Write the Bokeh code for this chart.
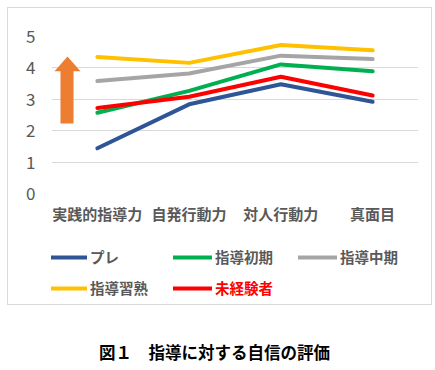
from bokeh.plotting import figure
from bokeh.models import (FixedTicker, Legend, LegendItem, Label, Range1d, Spacer)
from bokeh.layouts import column, row
from bokeh.embed import file_html
from bokeh.resources import INLINE

categories = ["実践的指導力", "自発行動力", "対人行動力", "真面目"]
series_names = ["プレ", "指導初期", "指導中期", "指導習熟", "未経験者"]
pre = [1.44, 2.84, 3.48, 2.92]
shoki = [2.57, 3.27, 4.11, 3.89]
chuki = [3.58, 3.82, 4.39, 4.28]
shujuku = [4.35, 4.16, 4.73, 4.56]
mikeiken = [2.72, 3.08, 3.72, 3.12]
y_ticks = [0, 1, 2, 3, 4, 5]
colors = ["#2F5597", "#00B050", "#A5A5A5", "#FFC000", "#FF0000"]
title_text = "図１　指導に対する自信の評価"

# decorative arrow (synthetic categorical x, data y)
arrow_x = [0.098, 0.098, 0.033, 0.174, 0.316, 0.240, 0.240]
arrow_y = [2.23, 3.89, 3.89, 4.36, 3.89, 3.89, 2.23]

FONT = "Noto Sans CJK JP"
GRAY = "#595959"

# ---- main chart ----
p = figure(x_range=categories, y_range=(0, 5), width=423, height=222,
           output_backend="svg", toolbar_location=None,
           min_border_left=43, min_border_right=13, min_border_top=28,
           min_border_bottom=37)
p.outline_line_color = None
p.xgrid.grid_line_color = None
p.ygrid.grid_line_color = "#D9D9D9"
p.ygrid.grid_line_width = 1
p.yaxis.ticker = FixedTicker(ticks=y_ticks)
for ax in (p.xaxis, p.yaxis):
    ax.axis_line_color = None
    ax.major_tick_line_color = None
    ax.minor_tick_line_color = None
    ax.major_label_text_color = GRAY
    ax.major_label_text_font = FONT
p.yaxis.major_label_text_font_size = "17px"
p.yaxis.major_label_standoff = 10
p.xaxis.major_label_text_font_size = "15px"
p.xaxis.major_label_text_font_style = "bold"
p.xaxis.major_label_standoff = 3

p.patch(arrow_x, arrow_y, fill_color="#ED7D31", line_color=None)

all_vals = [pre, shoki, chuki, shujuku, mikeiken]
for name, vals, c in zip(series_names, all_vals, colors):
    p.line(categories, vals, line_color=c, line_width=4, line_cap="round",
           line_join="round")

# ---- legend panel ----
lp = figure(width=423, height=74, x_range=Range1d(0, 1), y_range=Range1d(0, 1),
            output_backend="svg", toolbar_location=None,
            x_axis_location=None, y_axis_location=None,
            min_border_left=0, min_border_right=0, min_border_top=0,
            min_border_bottom=0)
lp.grid.visible = False
lp.outline_line_color = None
proxies = [lp.line(x=[float("nan")], y=[float("nan")], line_color=c,
                   line_width=4, line_cap="round")
           for c in colors]


def make_legend(idx, loc, color):
    lg = Legend(items=[LegendItem(label=series_names[i], renderers=[proxies[i]])
                       for i in idx],
                location=loc, orientation="horizontal",
                glyph_width=39, glyph_height=20, label_height=20,
                label_width=72, label_standoff=3, spacing=11, padding=0,
                margin=0, border_line_color=None, background_fill_alpha=0,
                label_text_font=FONT, label_text_font_size="14.5px",
                label_text_font_style="bold", label_text_color=color)
    lp.add_layout(lg, "center")


make_legend([0, 1, 2], (-3, 37), GRAY)
make_legend([3], (-3, 6), GRAY)
make_legend([4], (122, 6), "#FF0000")

# ---- caption ----
cp = figure(width=435, height=60, x_range=Range1d(0, 1), y_range=Range1d(0, 1),
            output_backend="svg", toolbar_location=None,
            x_axis_location=None, y_axis_location=None,
            min_border_left=0, min_border_right=0, min_border_top=0,
            min_border_bottom=0)
cp.grid.visible = False
cp.outline_line_color = None
cp.add_layout(Label(x=214, y=14, x_units="screen", y_units="screen",
                    text=title_text, text_align="center", text_baseline="middle",
                    text_font=FONT, text_font_size="16.5px",
                    text_font_style="bold", text_color="black"))

boxed = column(p, lp, styles={"border": "1px solid #D9D9D9"})
layout = column(Spacer(height=7), row(Spacer(width=7), boxed), cp)

open("out.html", "w").write(file_html(layout, INLINE))
